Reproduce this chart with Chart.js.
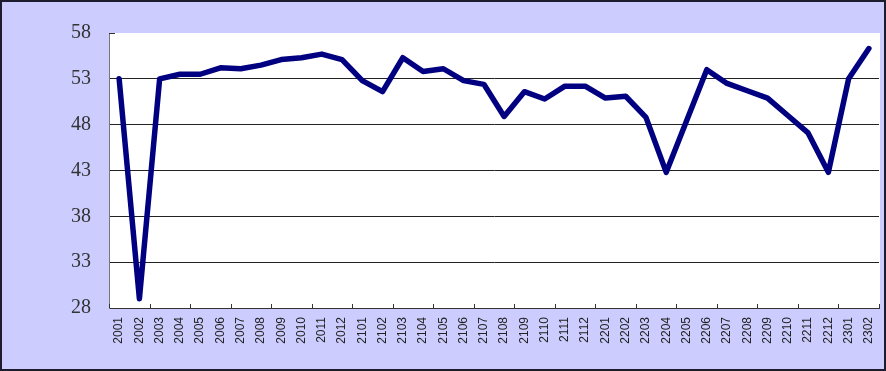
<!DOCTYPE html>
<html lang="en">
<head>
  <meta charset="UTF-8">
  <title>Index chart</title>
  <script src="https://cdn.jsdelivr.net/npm/chart.js"></script>
  <style>
    html, body {
      margin: 0;
      padding: 0;
      background: #ffffff;
    }
    #frame {
      width: 886px;
      height: 371px;
      box-sizing: border-box;
      border: 2px solid #1c1c2c;
      background: #ccccff;
    }
    #frame canvas {
      display: block;
    }
  </style>
</head>
<body>
  <div id="frame">
    <canvas id="chart" width="882" height="367"></canvas>
  </div>

  <script>
    const months = [
      "2001", "2002", "2003", "2004", "2005", "2006", "2007", "2008", "2009", "2010", "2011", "2012",
      "2101", "2102", "2103", "2104", "2105", "2106", "2107", "2108", "2109", "2110", "2111", "2112",
      "2201", "2202", "2203", "2204", "2205", "2206", "2207", "2208", "2209", "2210", "2211", "2212",
      "2301", "2302"
    ];
    const values = [
      53.0, 29.0, 53.0, 53.5, 53.5, 54.2, 54.1, 54.5, 55.1, 55.3, 55.7, 55.1,
      52.8, 51.6, 55.3, 53.8, 54.1, 52.8, 52.4, 48.9, 51.6, 50.8, 52.2, 52.2,
      50.9, 51.1, 48.8, 42.8, 48.4, 54.0, 52.5, 51.7, 50.9, 49.0, 47.1, 42.8,
      53.0, 56.3
    ];
    const yMin = 28;
    const yMax = 58;
    const yStep = 5;

    // short tick marks pointing into the plot, like the original
    const innerTicks = {
      id: "innerTicks",
      afterDraw(chart) {
        const ctx = chart.ctx;
        const x = chart.scales.x;
        const y = chart.scales.y;
        const area = chart.chartArea;
        ctx.save();
        ctx.strokeStyle = "#333333";
        ctx.lineWidth = 1;
        ctx.beginPath();
        for (let i = 0; i <= months.length; i += 2) {
          const px = Math.round(x.getPixelForValue(i - 0.5)) + 0.5;
          ctx.moveTo(px, area.bottom);
          ctx.lineTo(px, area.bottom - 4);
        }
        const top = Math.round(y.getPixelForValue(yMax)) + 0.5;
        ctx.moveTo(area.left, top);
        ctx.lineTo(area.left + 6, top);
        ctx.stroke();
        ctx.restore();
      }
    };

    const plotBackground = {
      id: "plotBackground",
      beforeDraw(chart) {
        const a = chart.chartArea;
        chart.ctx.save();
        chart.ctx.fillStyle = "#ffffff";
        chart.ctx.fillRect(a.left, a.top, a.right - a.left + 1, a.bottom - a.top);
        chart.ctx.restore();
      }
    };

    new Chart(document.getElementById("chart"), {
      type: "line",
      data: {
        labels: months,
        datasets: [
          {
            data: values,
            borderColor: "#000080",
            borderWidth: 5.5,
            pointRadius: 0,
            tension: 0,
            borderJoinStyle: "round",
            borderCapStyle: "round",
            fill: false
          }
        ]
      },
      options: {
        responsive: false,
        animation: false,
        layout: {
          padding: { left: 0, right: 5, top: 31, bottom: 0 }
        },
        plugins: {
          legend: { display: false },
          tooltip: { enabled: false }
        },
        scales: {
          x: {
            offset: true,
            afterFit: (s) => {
              s.height = 61;
              s.paddingLeft = 0;
              s.paddingRight = 0;
            },
            grid: {
              display: true,
              drawOnChartArea: false,
              drawTicks: false
            },
            border: { color: "#333333", width: 1 },
            ticks: {
              autoSkip: false,
              minRotation: 90,
              maxRotation: 90,
              padding: 9,
              color: "#222222",
              font: { family: "Liberation Sans", size: 12 }
            }
          },
          y: {
            min: yMin,
            max: yMax,
            afterFit: (s) => {
              s.width = 107;
              s.paddingTop = 0;
              s.paddingBottom = 0;
            },
            grid: {
              drawTicks: false,
              color: (c) => (c.tick && c.tick.value === yMax ? "rgba(0,0,0,0)" : "#222222")
            },
            border: { color: "#777777", width: 1 },
            ticks: {
              stepSize: yStep,
              padding: 18,
              color: "#333333",
              font: { family: "Liberation Serif", size: 20 }
            }
          }
        }
      },
      plugins: [plotBackground, innerTicks]
    });
  </script>
</body>
</html>
